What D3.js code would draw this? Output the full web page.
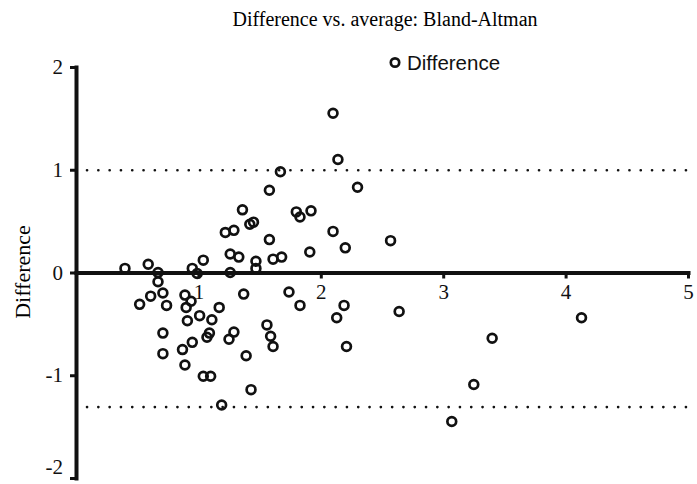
<!DOCTYPE html>
<html>
<head>
<meta charset="utf-8">
<script src="https://cdn.jsdelivr.net/npm/d3@7"></script>
<style>
  body { margin: 0; background: #fff; }
  svg { display: block; }
</style>
</head>
<body>
<svg width="697" height="484"></svg>
<script>
// Bland-Altman: average of the two methods (x) and their difference (y)
var averages = [0.40, 0.59, 0.67, 0.67, 0.52, 0.61, 0.71, 0.74, 0.71, 0.71,
    0.89, 0.94, 0.90, 0.91, 1.01, 1.11, 1.17, 0.95, 0.99, 1.04,
    1.07, 1.09, 0.95, 0.87, 0.89, 1.04, 1.10, 1.19, 1.26, 1.33,
    1.26, 1.22, 1.29, 1.36, 1.42, 1.45, 1.47, 1.47, 1.58, 1.67,
    1.58, 1.61, 1.68, 1.37, 1.25, 1.29, 1.56, 1.59, 1.61, 1.39,
    1.43, 1.74, 1.83, 1.80, 1.83, 1.92, 1.91, 2.10, 2.20, 2.19,
    2.13, 2.21, 2.10, 2.14, 2.30, 2.57, 2.64, 4.13, 3.40, 3.25, 3.07];
var differences = [0.04, 0.08, 0.00, -0.09, -0.31, -0.23, -0.20, -0.32, -0.59, -0.79,
    -0.22, -0.28, -0.34, -0.47, -0.42, -0.46, -0.34, 0.04, -0.01, 0.12,
    -0.63, -0.59, -0.68, -0.75, -0.90, -1.01, -1.01, -1.29, 0.18, 0.15,
    0.00, 0.39, 0.41, 0.61, 0.47, 0.49, 0.11, 0.04, 0.80, 0.98,
    0.32, 0.13, 0.15, -0.21, -0.65, -0.58, -0.51, -0.62, -0.72, -0.81,
    -1.14, -0.19, -0.32, 0.59, 0.54, 0.60, 0.20, 0.40, 0.24, -0.32,
    -0.44, -0.72, 1.55, 1.10, 0.83, 0.31, -0.38, -0.44, -0.64, -1.09, -1.45];
var limits = [0.995, -1.31];
var xTicks = [1, 2, 3, 4, 5];
var yTicks = [-2, -1, 0, 1, 2];

var svg = d3.select("svg");

var x = d3.scaleLinear().domain([0, 5]).range([76, 688]);
var y = d3.scaleLinear().domain([-2, 2]).range([478, 67]);

var minorX = d3.range(0, 15.5).map(function (i) { return i / 3; });
var minorY = d3.range(-6, 6.5).map(function (i) { return i / 3; });

// title
svg.append("text").attr("x", 385).attr("y", 26).attr("text-anchor", "middle")
    .style("font-family", "Liberation Serif, serif").style("font-size", "20px")
    .text("Difference vs. average: Bland-Altman");

// y axis label
svg.append("text").attr("transform", "translate(30,272) rotate(-90)")
    .attr("text-anchor", "middle")
    .style("font-family", "Liberation Serif, serif").style("font-size", "22px")
    .text("Difference");

// limits of agreement
svg.selectAll(".limit").data(limits).enter().append("line").attr("class", "limit")
    .attr("x1", 87).attr("x2", x(5))
    .attr("y1", function (d) { return y(d); }).attr("y2", function (d) { return y(d); })
    .style("stroke", "#111").style("stroke-width", 2.6)
    .style("stroke-linecap", "round").style("stroke-dasharray", "0.1,11.2");

// y axis
var yAxisG = svg.append("g").attr("transform", "translate(" + x(0) + ",0)");
yAxisG.call(d3.axisLeft(y).tickValues(minorY).tickSize(3).tickSizeOuter(0).tickFormat(""));
yAxisG.call(d3.axisLeft(y).tickValues(yTicks).tickSize(6).tickSizeOuter(0).tickPadding(7)
    .tickFormat(function (d) { return String(d); }));
// keep the bottom label inside the window
yAxisG.selectAll(".tick text").filter(function (d) { return d === -2; }).attr("dy", "-0.2em");

// x axis on the zero line
var xAxisG = svg.append("g").attr("transform", "translate(0," + y(0) + ")");
xAxisG.call(d3.axisBottom(x).tickValues(minorX).tickSize(3).tickSizeOuter(0).tickFormat(""));
xAxisG.call(d3.axisBottom(x).tickValues(xTicks).tickSize(6).tickSizeOuter(0).tickPadding(6)
    .tickFormat(function (d) { return String(d); }));

svg.selectAll(".domain").style("stroke", "#111").style("stroke-width", 4).style("stroke-linecap", "square");
svg.selectAll(".tick line").style("stroke", "#111").style("stroke-width", 3);
svg.selectAll(".tick text").style("font-family", "Liberation Serif, serif")
    .style("font-size", "21px").style("fill", "#111");

// points
svg.selectAll(".pt").data(averages).enter().append("circle").attr("class", "pt")
    .attr("cx", function (d) { return x(d); })
    .attr("cy", function (d, i) { return y(differences[i]); })
    .attr("r", 4.4)
    .style("fill", "none").style("stroke", "#111").style("stroke-width", 2.7);

// legend
svg.append("circle").attr("cx", 395).attr("cy", 62.5).attr("r", 4.2)
    .style("fill", "none").style("stroke", "#111").style("stroke-width", 2.7);
svg.append("text").attr("x", 407).attr("y", 70)
    .style("font-family", "Liberation Sans, Arial, sans-serif").style("font-size", "20.5px")
    .style("fill", "#111").text("Difference");
</script>
</body>
</html>
